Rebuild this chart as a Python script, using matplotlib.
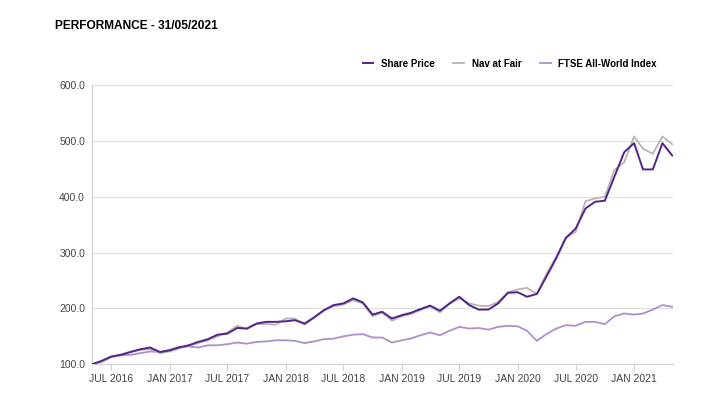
import matplotlib
matplotlib.use("Agg")
import matplotlib.pyplot as plt
import pandas as pd

# monthly values, rebased to 100 at end of May 2016
months = pd.date_range("2016-05-31", "2021-05-31", freq="ME")

share_price = [100, 106, 114, 117, 122, 127, 130, 122, 125, 130,
               134, 140, 145, 153, 155, 165, 164, 173, 176, 176,
               177, 179, 173, 184, 197, 206, 209, 218, 211, 189,
               194, 182, 188, 192, 199, 205, 196, 209, 221, 206,
               198, 198, 209, 228, 229, 221, 226, 257, 290, 326,
               343, 379, 391, 393, 436, 480, 496, 449, 449, 496,
               474]

nav_at_fair = [100, 105, 113, 118, 123, 126, 127, 120, 123, 128,
               133, 138, 143, 150, 157, 169, 163, 172, 172, 171,
               182, 182, 171, 183, 196, 204, 207, 215, 209, 186,
               193, 178, 186, 190, 197, 204, 193, 208, 218, 209,
               205, 204, 212, 229, 234, 237, 226, 262, 293, 327,
               337, 392, 397, 400, 448, 462, 508, 486, 477, 508,
               494]

ftse = [100, 104, 113, 116, 117, 120, 123, 122, 126, 131,
        132, 130, 134, 134, 136, 139, 137, 140, 141, 143,
        143, 142, 138, 141, 145, 146, 150, 153, 154, 148,
        148, 139, 143, 146, 152, 157, 152, 160, 167, 164,
        165, 162, 167, 169, 168, 160, 142, 154, 164, 170,
        169, 176, 176, 172, 186, 191, 189, 191, 198, 206,
        203]

tick_idx = list(range(2, 61, 6))
y_ticks = [100, 200, 300, 400, 500, 600]

plt.rcParams["font.family"] = ["Liberation Sans", "DejaVu Sans"]

fig = plt.figure(figsize=(7.22, 3.94), dpi=100)
ax = fig.add_axes([0.1274, 0.0754, 0.805, 0.7086])

ax.plot(months, ftse, color="#ab90ca", lw=1.3, label="FTSE All-World Index", zorder=3)
ax.plot(months, nav_at_fair, color="#b8b4b4", lw=1.3, label="Nav at Fair", zorder=4)
ax.plot(months, share_price, color="#52248a", lw=1.4, label="Share Price", zorder=5)

ax.set_ylim(100, 600)
ax.set_xlim(months[0], months[-1] + pd.Timedelta(days=3))
ax.set_yticks(y_ticks)
ax.set_yticklabels([f"{v:.1f}" for v in y_ticks])
ax.set_xticks(months[tick_idx])
ax.set_xticklabels([d.strftime("%b %Y").upper() for d in months[tick_idx]])

ax.grid(axis="y", color="#dedede", lw=0.8)
ax.set_axisbelow(True)
for s in ["top", "right"]:
    ax.spines[s].set_visible(False)
ax.spines["left"].set_color("#cfcfcf")
ax.spines["bottom"].set_color("#cfcfcf")
ax.tick_params(axis="y", length=0, labelsize=7.5, labelcolor="#444444", pad=5)
ax.tick_params(axis="x", length=4, color="#cfcfcf", labelsize=7.5, labelcolor="#444444", pad=3)

handles, labels = ax.get_legend_handles_labels()
leg = fig.legend(handles[::-1], labels[::-1], loc="center right", bbox_to_anchor=(0.922, 0.838),
                 ncol=3, frameon=False, handlelength=1.1, handletextpad=0.8, columnspacing=1.9,
                 prop={"size": 7.0, "weight": "bold"})

fig.text(0.076, 0.935, "PERFORMANCE - 31/05/2021", fontsize=8.6, fontweight="bold",
         color="#000000", va="center")

fig.savefig("out.png", dpi=100)
